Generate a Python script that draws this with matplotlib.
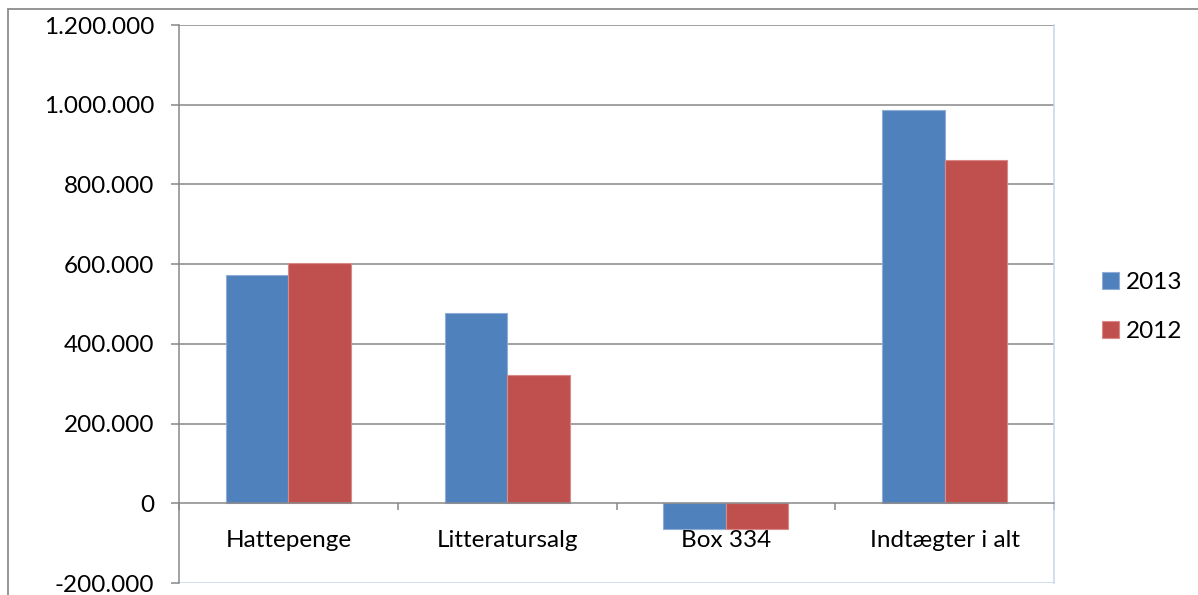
import numpy as np
import matplotlib
matplotlib.use('Agg')
import matplotlib.pyplot as plt
from matplotlib.ticker import FuncFormatter, FixedLocator
from matplotlib.patches import Rectangle

categories = ['Hattepenge', 'Litteratursalg', 'Box 334', 'Indtægter i alt']
values_2013 = [572000, 477000, -65000, 986000]
values_2012 = [602000, 321000, -65000, 861000]
series_labels = ['2013', '2012']
yticks = [-200000, 0, 200000, 400000, 600000, 800000, 1000000, 1200000]

blue = '#4F81BD'
red = '#C0504D'
grid_col = '#878787'

plt.rcParams['font.family'] = ['Lato', 'DejaVu Sans']

W, H = 1198, 595
fig = plt.figure(figsize=(W / 100, H / 100), dpi=100)

# ydre ramme
fig.patches.append(Rectangle((8 / W, -0.1), 1.2, 1 - 9 / H + 0.1, transform=fig.transFigure,
                             fill=False, edgecolor='#8c8c8c', linewidth=1.3))

ax = fig.add_axes([179 / W, 1 - 583 / H, (1054 - 179) / W, (583 - 25) / H])

x = np.arange(len(categories))
bw = 1 / 3.5
ax.bar(x - bw / 2, values_2013, bw, color=blue, edgecolor='#8fadd6', linewidth=0.8,
       label=series_labels[0], zorder=3)
ax.bar(x + bw / 2, values_2012, bw, color=red, edgecolor='#d98a88', linewidth=0.8,
       label=series_labels[1], zorder=3)

ax.set_xlim(-0.5, len(categories) - 0.5)
ax.set_ylim(-200000, 1200000)
ax.set_yticks(yticks)
ax.yaxis.set_major_formatter(FuncFormatter(lambda v, p: f'{int(v):,}'.replace(',', '.')))
for v in yticks[2:]:
    ax.axhline(v, color=grid_col, linewidth=1.1, zorder=1)

ax.spines['top'].set_visible(False)
ax.spines['right'].set_color('#c5d3ea')
ax.spines['right'].set_linewidth(1.1)
ax.spines['left'].set_color(grid_col)
ax.spines['left'].set_linewidth(1.1)
ax.spines['bottom'].set_position(('data', 0))
ax.spines['bottom'].set_color(grid_col)
ax.spines['bottom'].set_linewidth(1.1)
ax.spines['bottom'].set_zorder(4)
ax.axhline(-200000, color='#c5d3ea', linewidth=1.1, zorder=1)

ax.xaxis.set_major_locator(FixedLocator(np.arange(len(categories) + 1) - 0.5))
ax.xaxis.set_minor_locator(FixedLocator(x))
ax.set_xticklabels([], minor=False)
ax.set_xticklabels(categories, minor=True)
ax.tick_params(axis='x', which='major', length=5, color=grid_col, width=1.1)
ax.tick_params(axis='x', which='minor', length=0, pad=19.5, labelsize=17.5)
ax.tick_params(axis='y', length=6, color=grid_col, width=1.1, labelsize=17.5, pad=12)

fig.legend(loc='center left', bbox_to_anchor=(1080 / W, 1 - 307 / H), frameon=False,
           fontsize=17.5, handlelength=0.7, handleheight=0.7, handletextpad=0.3,
           labelspacing=1.15)

fig.savefig('out.png', dpi=100)
